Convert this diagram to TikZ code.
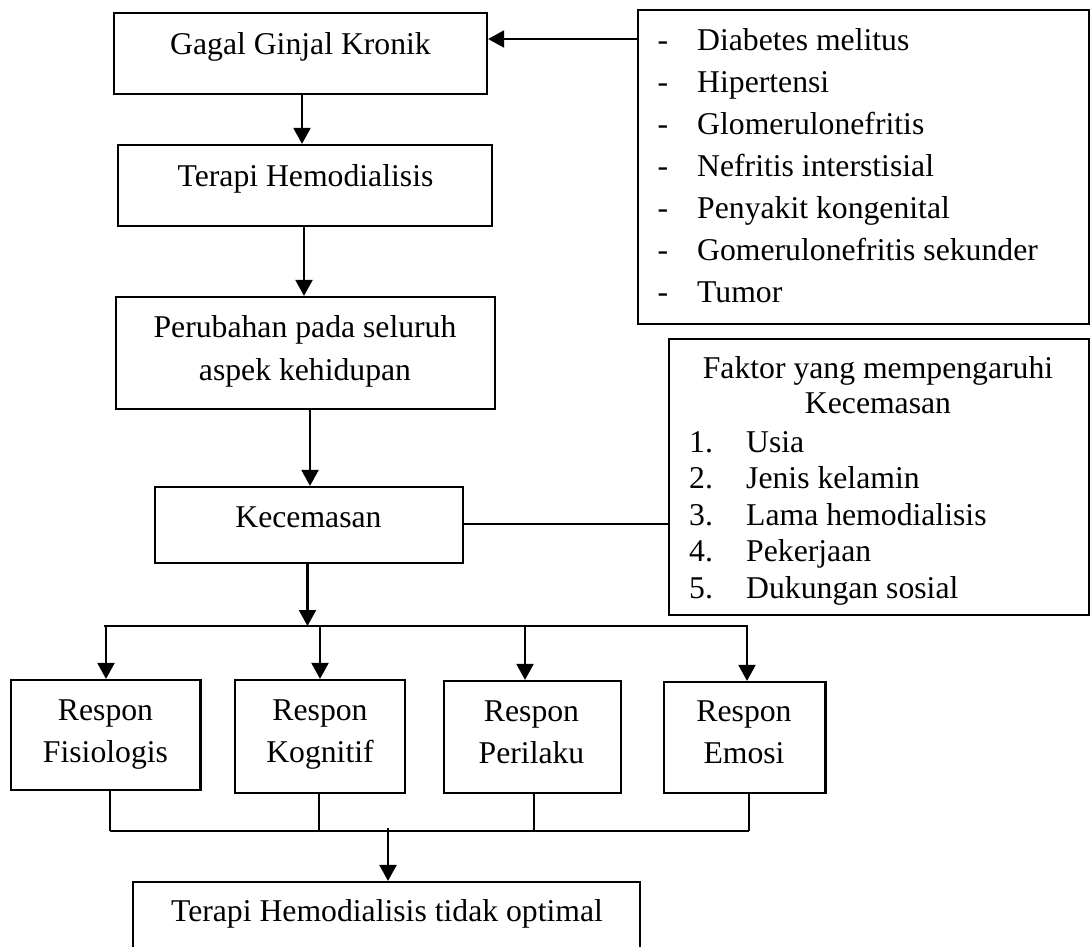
\documentclass[tikz,border=0pt]{standalone}
\usepackage{fontspec}
\setmainfont{Liberation Serif}
\usetikzlibrary{arrows.meta}
\begin{document}
\begin{tikzpicture}[x=1pt,y=-1pt,
  box/.style={draw, line width=2.2pt, inner sep=0pt, rectangle},
  txt/.style={anchor=base, inner sep=0pt, font=\fontsize{31.7}{42}\selectfont},
  ltxt/.style={anchor=base west, inner sep=0pt, font=\fontsize{31.7}{42}\selectfont},
  conn/.style={line width=2.2pt},
  arr/.style={line width=2.2pt, -{Triangle[length=16pt,width=17pt]}}]
\useasboundingbox (0,0) rectangle (1091,946);

% boxes
\node[box, minimum width=373pt, minimum height=81pt] (gagal) at (300.5,53.5) {};
\node[box, minimum width=374pt, minimum height=81pt] (terapi) at (305,185.5) {};
\node[box, minimum width=379pt, minimum height=112pt] (perubahan) at (305.5,353) {};
\node[box, minimum width=308pt, minimum height=76pt] (kecemasan) at (309,525) {};
\node[box, minimum width=451pt, minimum height=314pt] (list) at (863.5,167) {};
\node[box, minimum width=420pt, minimum height=276pt] (faktor) at (879,477) {};
\node[box, minimum width=189.5pt, minimum height=110pt] (fis) at (105.75,735) {};
\node[box, minimum width=170pt, minimum height=113pt] (kog) at (320,736.5) {};
\node[box, minimum width=176.6pt, minimum height=112pt] (per) at (532.3,737) {};
\node[box, minimum width=161.5pt, minimum height=111pt] (emo) at (744.75,737.5) {};
\node[box, minimum width=507pt, minimum height=90pt] (final) at (386.5,927) {};

% texts
\node[txt] (tgagal) at (300.5,54) {Gagal Ginjal Kronik};
\node[txt] (tterapi) at (305.5,186) {Terapi Hemodialisis};
\node[txt] (tperub1) at (305,337) {Perubahan pada seluruh};
\node[txt] (tperub2) at (305,380) {aspek kehidupan};
\node[txt] (tkec) at (308.5,527) {Kecemasan};

\foreach \t [count=\i from 0] in {Diabetes melitus,Hipertensi,Glomerulonefritis,Nefritis interstisial,Penyakit kongenital,Gomerulonefritis sekunder,Tumor}{
  \node[txt] (dash\i) at (663,50+42.1*\i) {-};
  \node[ltxt] (item\i) at (697,50+42.1*\i) {\t};
}

\node[txt] (tfak1) at (878,378) {Faktor yang mempengaruhi};
\node[txt] (tfak2) at (878,413) {Kecemasan};
\foreach \t [count=\i from 1] in {Usia,Jenis kelamin,Lama hemodialisis,Pekerjaan,Dukungan sosial}{
  \node[ltxt] (num\i) at (689,415.5+36.6*\i) {\i.};
  \node[ltxt] (fitem\i) at (746,415.5+36.6*\i) {\t};
}

\node[txt] (tfis1) at (105.5,720.5) {Respon};
\node[txt] (tfis2) at (105.5,762) {Fisiologis};
\node[txt] (tkog1) at (320,720.5) {Respon};
\node[txt] (tkog2) at (320,762) {Kognitif};
\node[txt] (tper1) at (531.5,721.5) {Respon};
\node[txt] (tper2) at (531.5,763) {Perilaku};
\node[txt] (temo1) at (744,721.5) {Respon};
\node[txt] (temo2) at (744,763) {Emosi};
\node[txt] (tfinal) at (387,921) {Terapi Hemodialisis tidak optimal};

% connectors top part
\coordinate (g1) at (638,39);
\draw[arr] (list.west |- g1) -- (gagal.east |- g1);
\coordinate (a1) at (302,0);
\draw[arr] (a1 |- gagal.south) -- (a1 |- terapi.north);
\coordinate (a2) at (304,0);
\draw[arr] (a2 |- terapi.south) -- (a2 |- perubahan.north);
\coordinate (a3) at (310,0);
\draw[arr] (a3 |- perubahan.south) -- (a3 |- kecemasan.north);
\coordinate (k1) at (0,524);
\draw[conn] (kecemasan.east |- k1) -- (faktor.west |- k1);

% branching
\coordinate (br) at (307.5,626);
\coordinate (bl) at (104,626);
\coordinate (brr) at (748,626);
\draw[arr] (br |- kecemasan.south) -- (br);
\draw[conn] (bl) -- (brr);
\coordinate (b1) at (106,626);
\coordinate (b2) at (320,626);
\coordinate (b3) at (525,626);
\coordinate (b4) at (747,626);
\draw[arr] (b1) -- (b1 |- fis.north);
\draw[arr] (b2) -- (b2 |- kog.north);
\draw[arr] (b3) -- (b3 |- per.north);
\draw[arr] (b4) -- (b4 |- emo.north);

% merging
\coordinate (m1) at (110,831);
\coordinate (m2) at (319,831);
\coordinate (m3) at (534,831);
\coordinate (m4) at (749,831);
\draw[conn] (m1 |- fis.south) -- (m1);
\draw[conn] (m2 |- kog.south) -- (m2);
\draw[conn] (m3 |- per.south) -- (m3);
\draw[conn] (m4 |- emo.south) -- (m4);
\draw[conn] (m1) -- (m4);
\coordinate (mf) at (388,828);
\draw[arr] (mf) -- (mf |- final.north);
\end{tikzpicture}
\end{document}
